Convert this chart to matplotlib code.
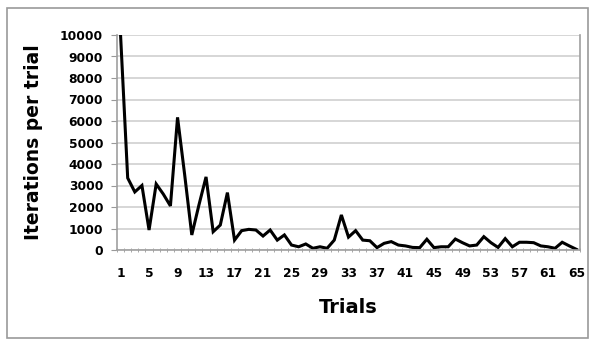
import numpy as np
import matplotlib.pyplot as plt
from matplotlib.patches import Rectangle

plt.rcParams.update({'font.family': 'DejaVu Sans', 'font.weight': 'bold'})

# Iterations per trial
trials = list(range(1, 66))
iterations = [10000, 3350, 2700, 3000, 930, 3070, 2600, 2050, 6170, 3500,
              700, 2090, 3400, 850, 1160, 2670, 460, 900, 960, 930,
              650, 930, 460, 700, 230, 150, 280, 80, 150, 80,
              460, 1630, 600, 900, 460, 430, 110, 310, 390, 230,
              190, 120, 110, 500, 110, 150, 150, 510, 340, 190,
              230, 620, 340, 120, 530, 150, 360, 360, 340, 190,
              150, 80, 360, 190, 30]
tick_labels = [str(t) for t in range(1, 66, 4)]
y_ticks = list(range(0, 10001, 1000))

fig = plt.figure(figsize=(5.89, 3.41), dpi=100)
fig.patches.append(Rectangle((7 / 589, 3 / 341), 581 / 589, 330 / 341,
                             transform=fig.transFigure, fill=False,
                             edgecolor='#9a9a9a', linewidth=1.2))

ax = fig.add_axes([117 / 589, 1 - 250 / 341, 463 / 589, 215 / 341])
x = np.arange(len(trials))
ax.plot(x, iterations, color='black', linewidth=2.2, solid_joinstyle='miter')

ax.set_xlim(-0.5, len(trials) - 0.5)
ax.set_ylim(0, 10000)
ax.set_yticks(y_ticks)
ax.set_yticklabels([str(v) for v in y_ticks], fontsize=8.8)
ax.set_xticks(x[::4])
ax.set_xticklabels(tick_labels, fontsize=8.8)
ax.set_xticks(np.arange(len(trials) + 1) - 0.5, minor=True)
ax.tick_params(axis='x', which='major', length=0, pad=12)
ax.tick_params(axis='x', which='minor', length=3, color='#999999', direction='inout')
ax.tick_params(axis='y', length=4, color='#999999', pad=6)

ax.grid(axis='y', color='#d0d0d0', linewidth=1.2)
ax.set_axisbelow(True)
ax.spines['top'].set_visible(False)
for side in ['left', 'bottom', 'right']:
    ax.spines[side].set_color('#a0a0a0')
    ax.spines[side].set_linewidth(1.2)

ax.set_xlabel('Trials', fontsize=14, fontweight='bold', labelpad=13)
ax.set_ylabel('Iterations per trial', fontsize=13.5, fontweight='bold', labelpad=12)

fig.savefig('out.png', dpi=100)
